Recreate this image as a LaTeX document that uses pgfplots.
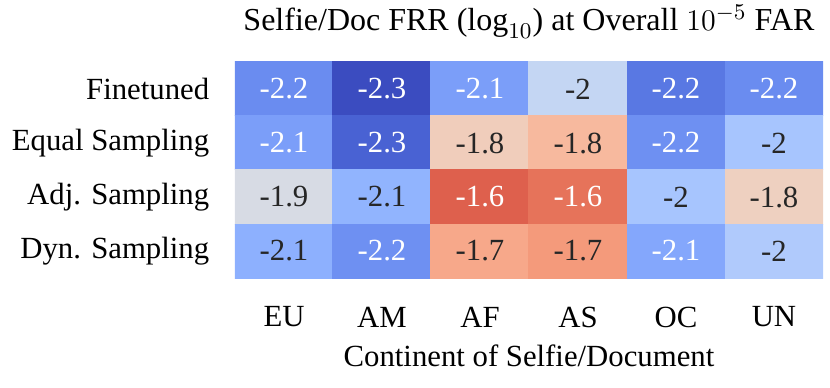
\documentclass[border=0pt]{standalone}
\usepackage{fontspec}
\setmainfont{Liberation Serif}
\usepackage{pgfplots}
\pgfplotsset{compat=1.18}
\usepackage{pgfplotstable}
\usetikzlibrary{calc}

% x = continent, y = method (0 = Finetuned, top), v = log10 FRR, w = white label
\pgfplotstableread{
x y v w
0 0 -2.18 1
1 0 -2.30 1
2 0 -2.14 1
3 0 -1.97 0
4 0 -2.22 1
5 0 -2.18 1
0 1 -2.14 1
1 1 -2.26 1
2 1 -1.83 0
3 1 -1.77 0
4 1 -2.17 1
5 1 -2.04 0
0 2 -1.92 0
1 2 -2.09 0
2 2 -1.60 1
3 2 -1.63 1
4 2 -2.04 0
5 2 -1.84 0
0 3 -2.10 0
1 3 -2.17 1
2 3 -1.73 0
3 3 -1.70 0
4 3 -2.12 1
5 3 -2.02 0
}\frrdata

\pgfplotsset{
  colormap={coolwarm}{
    rgb255=(59,76,192) rgb255=(68,90,204) rgb255=(77,104,215) rgb255=(87,117,225)
    rgb255=(98,130,234) rgb255=(108,142,241) rgb255=(119,154,247) rgb255=(130,165,251)
    rgb255=(141,176,254) rgb255=(152,185,255) rgb255=(163,194,255) rgb255=(174,201,253)
    rgb255=(184,208,249) rgb255=(194,213,244) rgb255=(204,217,238) rgb255=(213,219,230)
    rgb255=(221,221,221) rgb255=(229,216,209) rgb255=(236,211,197) rgb255=(241,204,185)
    rgb255=(245,196,173) rgb255=(247,187,160) rgb255=(247,177,148) rgb255=(247,166,135)
    rgb255=(244,154,123) rgb255=(241,141,111) rgb255=(236,127,99) rgb255=(229,112,88)
    rgb255=(222,96,77) rgb255=(213,80,66) rgb255=(203,62,56) rgb255=(192,40,47)
    rgb255=(180,4,38)
  }
}

\begin{document}
\begin{tikzpicture}[font=\fontsize{12.3}{14.8}\selectfont]
\begin{axis}[
    name=ax,
    scale only axis,
    width=235.2pt, height=86.4pt,
    xmin=-0.5, xmax=5.5, ymin=-0.5, ymax=3.5,
    y dir=reverse,
    xtick={0,1,2,3,4,5},
    xticklabels={EU, AM, AF, AS, OC, UN},
    ytick={0,1,2,3},
    yticklabels={Finetuned, Equal Sampling, Adj. Sampling, Dyn. Sampling},
    axis line style={draw=none},
    major tick length=0pt,
    xticklabel style={yshift=-8pt},
    yticklabel style={xshift=-6.8pt},
    xlabel={Continent of Selfie/Document},
    xlabel style={at={(axis description cs:0.5,0)}, anchor=north, yshift=-23.4pt},
    title={Selfie/Doc FRR ($\log_{10}$) at Overall $10^{-5}$ FAR},
    title style={at={(axis description cs:0.5,1)}, anchor=base, yshift=6.6pt,
                 font=\fontsize{12.8}{15.4}\selectfont},
    colormap name=coolwarm,
    point meta min=-2.3, point meta max=-1.5,
    /pgf/number format/assume math mode=true,
    /pgf/number format/precision=1,
]
\addplot[
    matrix plot*,
    mesh/cols=6,
    point meta=explicit,
    visualization depends on={\thisrow{w} \as \wflag},
    nodes near coords={\ifdim\wflag pt>0.5pt\color{white}\else\color{black!85}\fi\pgfmathprintnumber{\pgfplotspointmeta}},
    every node near coord/.append style={anchor=center},
] table[x=x, y=y, meta=v] {\frrdata};
\end{axis}
\pgfresetboundingbox
\path ($(ax.south west)+(-94pt,-44pt)$) rectangle ($(ax.north east)+(2.8pt,24.8pt)$);
\end{tikzpicture}
\end{document}
